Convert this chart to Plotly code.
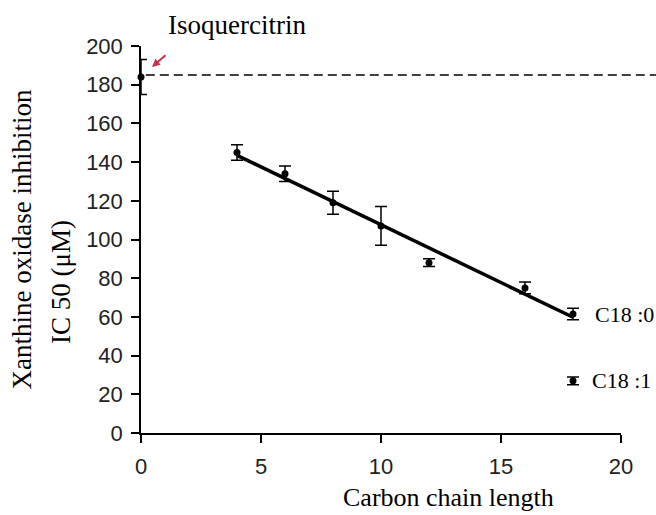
import numpy as np
import plotly.graph_objects as go

# Data
chain_length = [4, 6, 8, 10, 12, 16, 18]
ic50 = [145, 134, 119, 107, 88, 75, 61.5]
ic50_err = [4, 4, 6, 10, 2, 3, 3]

iso_x = [0]
iso_y = [184]
iso_err = [9]
iso_level = 185

c181_x = [18]
c181_y = [27]
c181_err = [2]

x_ticks = [0, 5, 10, 15, 20]
y_ticks = [0, 20, 40, 60, 80, 100, 120, 140, 160, 180, 200]

# Linear fit of the saturated esters
slope, intercept = np.polyfit(chain_length, ic50, 1)
fit_x = [min(chain_length), max(chain_length)]
fit_y = [slope * v + intercept for v in fit_x]

SERIF = "Liberation Serif, Times New Roman, serif"
SANS = "Liberation Sans Narrow, Arial Narrow, Liberation Sans, Arial, sans-serif"

fig = go.Figure()

fig.add_trace(go.Scatter(x=fit_x, y=fit_y, mode="lines",
                         line=dict(color="black", width=3.5), showlegend=False))

err_style = dict(type="data", thickness=1.5, width=6, color="black")
for xs, ys, es in [(chain_length, ic50, ic50_err), (iso_x, iso_y, iso_err), (c181_x, c181_y, c181_err)]:
    fig.add_trace(go.Scatter(x=xs, y=ys, mode="markers",
                             marker=dict(color="black", size=7, symbol="circle"),
                             error_y=dict(array=es, **err_style),
                             cliponaxis=False, showlegend=False))

# dashed reference line at isoquercitrin level
fig.add_shape(type="line", xref="paper", yref="y", x0=0.01, x1=1.08,
              y0=iso_level, y1=iso_level,
              line=dict(color="black", width=1.5, dash="9px,5px"))

# labels
fig.add_annotation(x=iso_x[0], y=iso_y[0], xref="x", yref="y", text="Isoquercitrin",
                   showarrow=False, xanchor="left", yanchor="middle", xshift=25, yshift=52,
                   font=dict(family=SERIF, size=27, color="black"))
fig.add_annotation(x=iso_x[0], y=iso_y[0], xref="x", yref="y", text="",
                   showarrow=True, arrowhead=2, arrowsize=0.8, arrowwidth=2, arrowcolor="#c8324a",
                   ax=15, ay=-13, xshift=11, yshift=10)
fig.add_annotation(x=18, y=ic50[-1], xref="x", yref="y", text="C18 :0",
                   showarrow=False, xanchor="left", yanchor="middle", xshift=20,
                   font=dict(family=SERIF, size=22, color="black"))
fig.add_annotation(x=c181_x[0], y=c181_y[0], xref="x", yref="y", text="C18 :1",
                   showarrow=False, xanchor="left", yanchor="middle", xshift=17,
                   font=dict(family=SERIF, size=22, color="black"))

# axis titles
fig.add_annotation(x=0.64, y=0, xref="paper", yref="paper", text="Carbon chain length",
                   showarrow=False, xanchor="center", yanchor="middle", yshift=-64,
                   font=dict(family=SERIF, size=26, color="black"))
fig.add_annotation(x=0, y=0.50, xref="paper", yref="paper", text="Xanthine oxidase inhibition",
                   showarrow=False, textangle=-90, xanchor="center", yanchor="middle",
                   xshift=-120, font=dict(family=SERIF, size=27, color="black"))
fig.add_annotation(x=0, y=0.39, xref="paper", yref="paper", text="IC 50 (μM)",
                   showarrow=False, textangle=-90, xanchor="center", yanchor="middle",
                   xshift=-80, font=dict(family=SERIF, size=27, color="black"))

axis_common = dict(showgrid=False, zeroline=False, showline=True, linecolor="black",
                   linewidth=1.5, ticks="outside", ticklen=8, tickwidth=1.5, tickcolor="black",
                   tickfont=dict(family=SANS, size=22, color="#222222"))

fig.update_xaxes(range=[0, 20], tickvals=x_ticks, ticklabelstandoff=5, **axis_common)
fig.update_yaxes(range=[0, 200], tickvals=y_ticks, ticklabelstandoff=4, **axis_common)

fig.update_layout(width=656, height=515, plot_bgcolor="white", paper_bgcolor="white",
                  margin=dict(l=141, r=35, t=46, b=82), showlegend=False)

# remove the default page margin so the figure fills the window exactly
fig.write_html("out.html", config={"displayModeBar": False},
               post_script="document.body.style.margin='0';document.body.style.overflow='hidden';")
